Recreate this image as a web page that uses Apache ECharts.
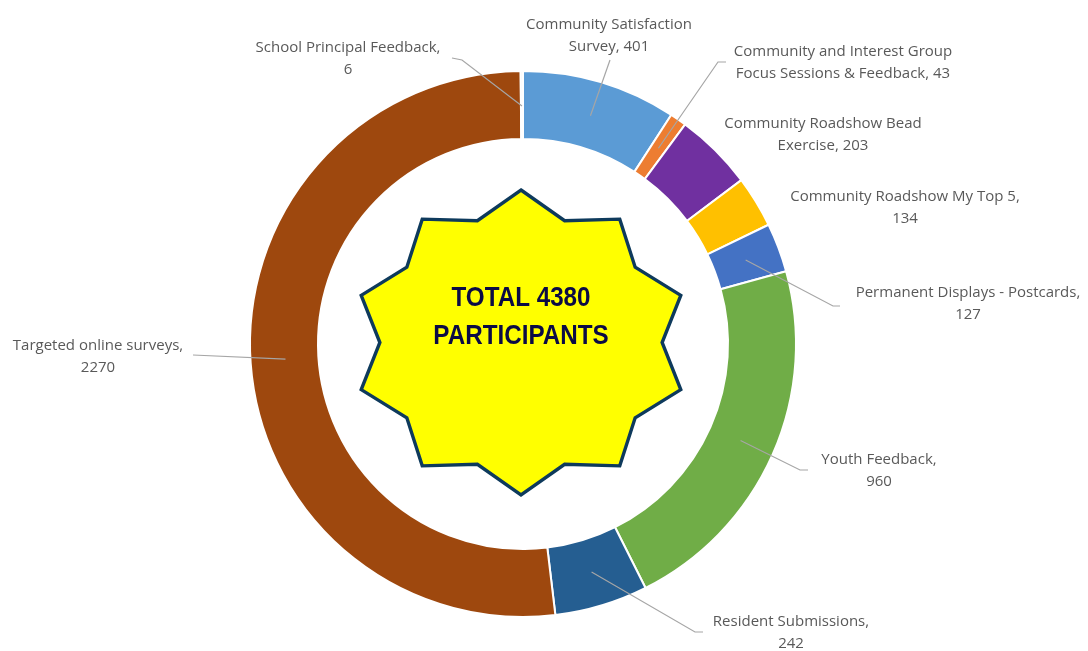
<!DOCTYPE html>
<html>
<head>
<meta charset="utf-8">
<script src="https://cdn.jsdelivr.net/npm/echarts@6/dist/echarts.min.js"></script>
<style>
  html, body { margin: 0; padding: 0; background: #ffffff; }
  #chart { width: 1088px; height: 651px; }
</style>
</head>
<body>
<div id="chart"></div>
<script>
// Participation sources (a "\n" marks where a long name wraps)
const categories = [
  'Community Satisfaction\nSurvey',
  'Community and Interest Group\nFocus Sessions & Feedback',
  'Community Roadshow Bead\nExercise',
  'Community Roadshow My Top 5',
  'Permanent Displays - Postcards',
  'Youth Feedback',
  'Resident Submissions',
  'Targeted online surveys',
  'School Principal Feedback'
];
const participants = [401, 43, 203, 134, 127, 960, 242, 2270, 6];
const sliceColors = ['#5B9BD5', '#ED7D31', '#7030A0', '#FFC000', '#4472C4', '#70AD47', '#255E91', '#9E480E', '#F2F2F2'];
const centreText = ['TOTAL 4380', 'PARTICIPANTS'];

// Ring geometry (pixels)
const CX = 523, CY = 344;
const R_IN = 205, R_OUT = 273;
const GUIDE_R = 238;          // leader lines start inside the ring

// Where each label sits, and the bend/end of its leader line
const labelPlacement = [
  { x: 609, y: 36,  bend: [610, 60],  end: [610, 60] },
  { x: 843, y: 63,  bend: [718, 62],  end: [726, 62] },
  { x: 823, y: 135 },
  { x: 905, y: 208 },
  { x: 968, y: 304, bend: [833, 306], end: [840, 306] },
  { x: 879, y: 471, bend: [800, 470], end: [808, 470] },
  { x: 791, y: 633, bend: [695, 632], end: [703, 632] },
  { x: 98,  y: 357, bend: [193, 355], end: [193, 355] },
  { x: 348, y: 59,  bend: [462, 60],  end: [452, 58] }
];

const total = participants.reduce((a, b) => a + b, 0);
function midAngle(i) {
  let before = 0;
  for (let k = 0; k < i; k++) before += participants[k];
  return (before + participants[i] / 2) / total * Math.PI * 2;
}

// Ten-pointed badge behind the total
function badgePoints(cx, cy, rx, ry, inner) {
  const pts = [];
  for (let k = 0; k < 20; k++) {
    const a = k * Math.PI / 10;
    const f = k % 2 === 0 ? 1 : inner;
    pts.push([cx + rx * f * Math.sin(a), cy - ry * f * Math.cos(a)]);
  }
  return pts;
}

const chart = echarts.init(document.getElementById('chart'), null, { renderer: 'canvas' });

const ringData = categories.map((name, i) => ({
  name: name,
  value: participants[i],
  itemStyle: { color: sliceColors[i] }
}));

// Same slices again, invisible, so labels and leader lines sit above the ring
const labelData = categories.map((name, i) => {
  const item = { name: name, value: participants[i] };
  if (!labelPlacement[i].bend) item.labelLine = { show: false };
  return item;
});

const centreFont = 'bold 28px "Liberation Sans", Arial, sans-serif';

chart.setOption({
  backgroundColor: '#ffffff',
  animation: false,
  graphic: [
    {
      type: 'polygon',
      shape: { points: badgePoints(521, 342.5, 168, 152.5, 0.84) },
      style: { fill: '#FFFF00', stroke: '#0E3A5C', lineWidth: 3.4, lineJoin: 'miter' },
      z: 10
    },
    {
      type: 'text',
      x: 521, y: 298, scaleX: 0.865,
      style: { text: centreText[0], fill: '#0B0B45', font: centreFont, align: 'center', verticalAlign: 'middle' },
      z: 11
    },
    {
      type: 'text',
      x: 521, y: 336, scaleX: 0.865,
      style: { text: centreText[1], fill: '#0B0B45', font: centreFont, align: 'center', verticalAlign: 'middle' },
      z: 11
    }
  ],
  series: [
    {
      type: 'pie',
      center: [CX, CY],
      radius: [R_IN, R_OUT],
      startAngle: 90,
      clockwise: true,
      z: 2,
      silent: true,
      itemStyle: { borderColor: '#ffffff', borderWidth: 2 },
      label: { show: false },
      labelLine: { show: false },
      emphasis: { disabled: true },
      data: ringData
    },
    {
      type: 'pie',
      center: [CX, CY],
      radius: [R_IN, R_OUT],
      startAngle: 90,
      clockwise: true,
      z: 5,
      silent: true,
      avoidLabelOverlap: false,
      minShowLabelAngle: 0,
      itemStyle: { color: 'rgba(0,0,0,0)', borderWidth: 0 },
      emphasis: { disabled: true },
      label: {
        show: true,
        position: 'outside',
        formatter: p => p.name.indexOf('\n') >= 0 ? p.name + ', ' + p.value : p.name + ',\n' + p.value,
        fontFamily: '"Open Sans", sans-serif',
        fontSize: 15,
        lineHeight: 22,
        color: '#595959',
        overflow: 'none',
        bleedMargin: 0
      },
      labelLine: {
        show: true,
        length: 10,
        length2: 10,
        smooth: false,
        lineStyle: { color: '#A6A6A6', width: 1.2 }
      },
      labelLayout: function (p) {
        const pl = labelPlacement[p.dataIndex];
        const out = { x: pl.x, y: pl.y, align: 'center', verticalAlign: 'middle' };
        if (pl.bend) {
          const a = midAngle(p.dataIndex);
          const start = [CX + GUIDE_R * Math.sin(a), CY - GUIDE_R * Math.cos(a)];
          out.labelLinePoints = [start, pl.bend, pl.end];
        }
        return out;
      },
      data: labelData
    }
  ]
});
</script>
</body>
</html>
